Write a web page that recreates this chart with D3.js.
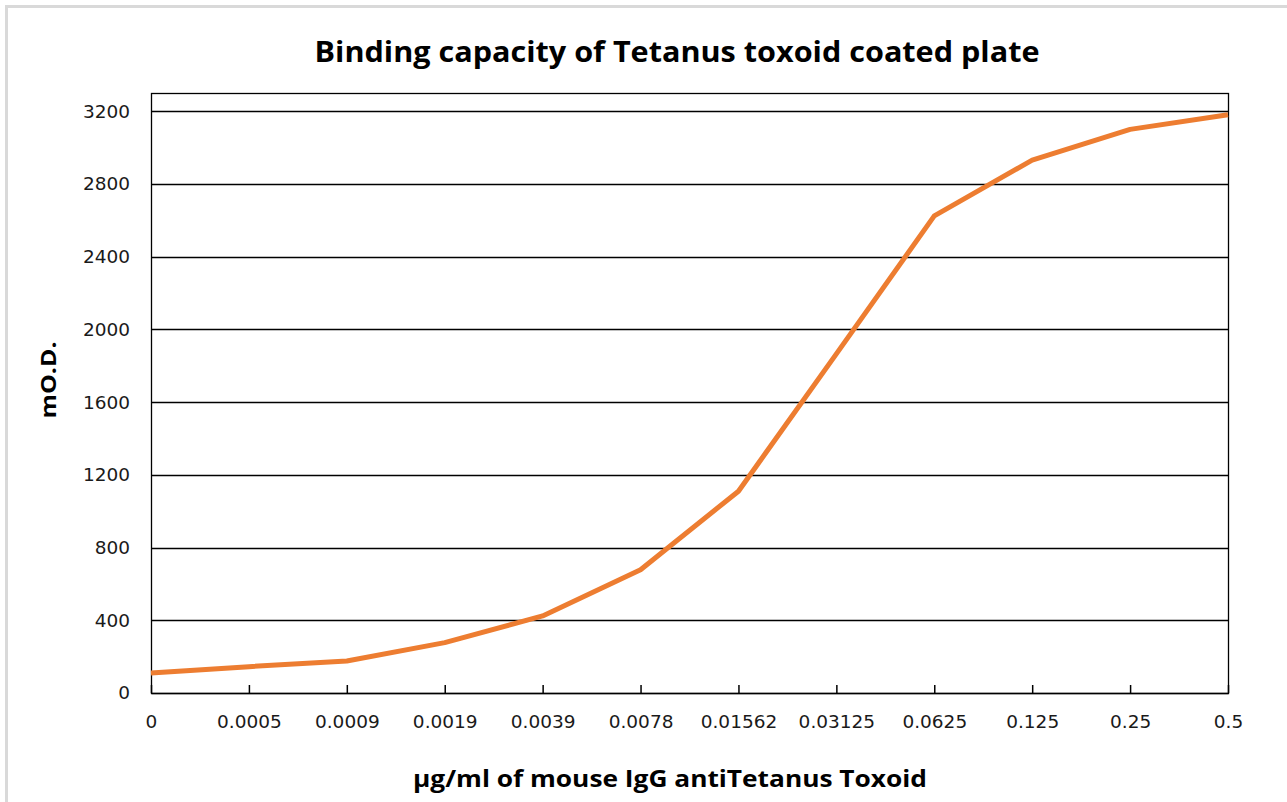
<!DOCTYPE html>
<html>
<head>
<meta charset="utf-8">
<script src="https://cdn.jsdelivr.net/npm/d3@7"></script>
<style>
  html, body { margin: 0; padding: 0; background: #fff; }
  svg { display: block; }
</style>
</head>
<body>
<svg id="chart" width="1287" height="802"></svg>
<script>
// ---- data ----
const categories = ["0", "0.0005", "0.0009", "0.0019", "0.0039", "0.0078",
                    "0.01562", "0.03125", "0.0625", "0.125", "0.25", "0.5"];
const odValues = [110, 145, 176, 277, 424, 678, 1110, 1865, 2624, 2931, 3100, 3180];
const yTicks = [0, 400, 800, 1200, 1600, 2000, 2400, 2800, 3200];
const titleText = "Binding capacity of Tetanus toxoid coated plate";
const xTitleText = "µg/ml of mouse IgG antiTetanus Toxoid";
const yTitleText = "mO.D.";

// ---- layout ----
const W = 1287, H = 802;
const plot = { left: 151, right: 1228, top: 93, bottom: 693 };
const svg = d3.select("#chart");

// outer chart border (light gray)
svg.append("rect")
  .attr("x", 6.5).attr("y", 6.5)
  .attr("width", W + 20).attr("height", H + 20)
  .attr("fill", "none").attr("stroke", "#d9d9d9").attr("stroke-width", 3);

const x = d3.scalePoint().domain(categories).range([plot.left, plot.right]);
const y = d3.scaleLinear().domain([0, 3300]).range([plot.bottom, plot.top]);

// gridlines
svg.append("g")
  .selectAll("line").data(yTicks.filter(d => d > 0)).join("line")
  .attr("x1", plot.left).attr("x2", plot.right)
  .attr("y1", d => Math.round(y(d)) + 0.5).attr("y2", d => Math.round(y(d)) + 0.5)
  .attr("stroke", "#000").attr("stroke-width", 1.3);

// plot border
svg.append("rect")
  .attr("x", plot.left + 0.5).attr("y", plot.top + 0.5)
  .attr("width", plot.right - plot.left).attr("height", plot.bottom - plot.top)
  .attr("fill", "none").attr("stroke", "#000").attr("stroke-width", 1.3);

const tickFont = "'DejaVu Sans', sans-serif";

// y axis
const yAxis = d3.axisLeft(y).tickValues(yTicks).tickFormat(d3.format("d"))
  .tickSize(0).tickPadding(21);
const gy = svg.append("g").attr("transform", `translate(${plot.left},0)`).call(yAxis);
gy.select(".domain").remove();
gy.selectAll("text")
  .attr("font-family", tickFont)
  .attr("font-size", 18.5).attr("fill", "#1a1a1a");

// x axis
const xAxis = d3.axisBottom(x).tickSizeInner(-8).tickSizeOuter(0).tickPadding(22);
const gx = svg.append("g").attr("transform", `translate(0,${plot.bottom})`).call(xAxis);
gx.select(".domain").attr("stroke", "#000").attr("stroke-width", 1.3);
gx.selectAll(".tick line").attr("stroke", "#000").attr("stroke-width", 1.5);
gx.selectAll("text")
  .attr("font-family", tickFont)
  .attr("font-size", 18.5).attr("fill", "#1a1a1a");

// line
const line = d3.line().x((d, i) => x(categories[i])).y(d => y(d));
svg.append("path")
  .datum(odValues)
  .attr("d", line)
  .attr("fill", "none")
  .attr("stroke", "#ED7D31")
  .attr("stroke-width", 5)
  .attr("stroke-linejoin", "round");

// titles
svg.append("text")
  .attr("x", 677).attr("y", 62)
  .attr("text-anchor", "middle")
  .attr("font-family", "'Open Sans', sans-serif")
  .attr("font-weight", "bold").attr("font-size", 29)
  .attr("textLength", 725).attr("lengthAdjust", "spacingAndGlyphs")
  .text(titleText);

svg.append("text")
  .attr("x", 670).attr("y", 787)
  .attr("text-anchor", "middle")
  .attr("font-family", "'Open Sans', sans-serif")
  .attr("font-weight", "bold").attr("font-size", 24)
  .attr("textLength", 514).attr("lengthAdjust", "spacingAndGlyphs")
  .text(xTitleText);

svg.append("text")
  .attr("transform", "translate(56,380) rotate(-90)")
  .attr("text-anchor", "middle")
  .attr("font-family", "'Open Sans', sans-serif")
  .attr("font-weight", "bold").attr("font-size", 22)
  .attr("textLength", 77).attr("lengthAdjust", "spacingAndGlyphs")
  .text(yTitleText);
</script>
</body>
</html>
